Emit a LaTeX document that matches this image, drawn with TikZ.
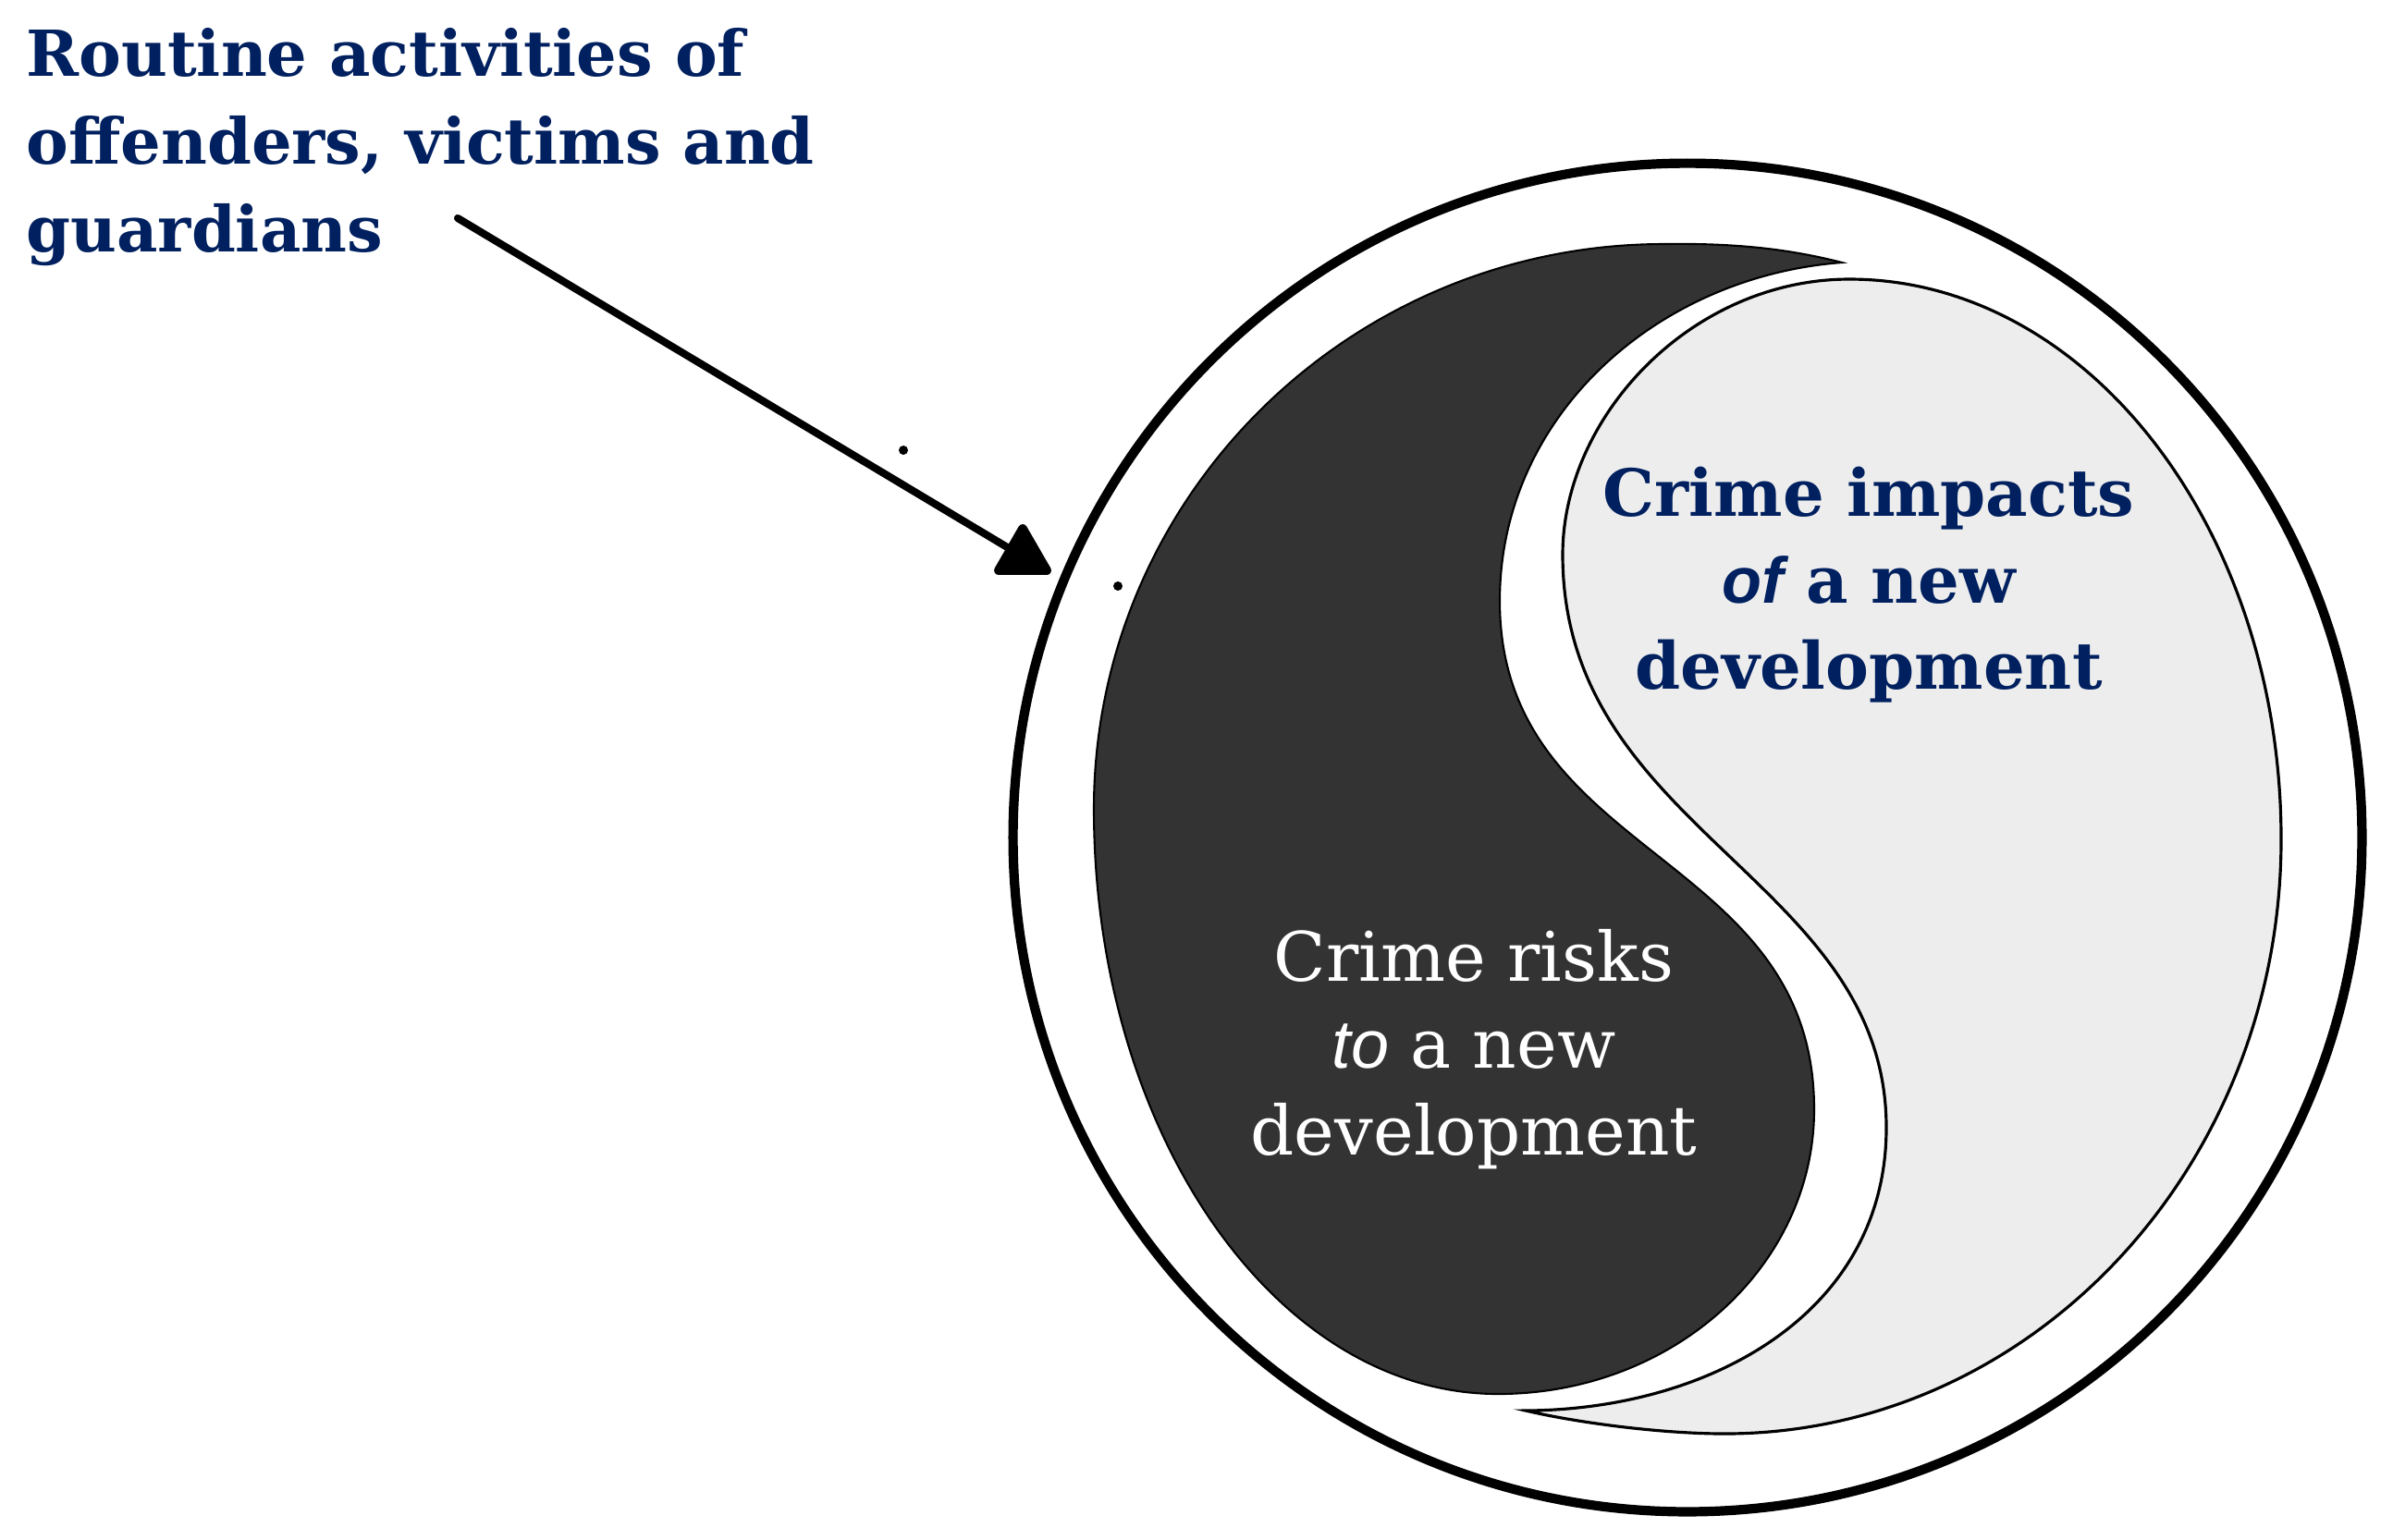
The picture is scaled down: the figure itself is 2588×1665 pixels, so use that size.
\documentclass[tikz,border=0pt]{standalone}
\usepackage{fontspec}
\setmainfont{DejaVu Serif}
\newfontfamily\italfont{Liberation Sans}
\usetikzlibrary{shapes.geometric}
\definecolor{navy}{RGB}{0,32,96}
\colorlet{darkpart}{black!80}
\colorlet{lightpart}{black!7}
\tikzset{
  ring/.style = {line width=2.9pt},
  routinetext/.style = {navy, inner sep=0pt, align=left,
    font=\bfseries\fontsize{19.5}{27}\selectfont},
  impacttext/.style = {navy, inner sep=0pt, align=center,
    font=\bfseries\fontsize{20}{26.7}\selectfont},
  risktext/.style = {white, inner sep=0pt, align=center,
    font=\fontsize{21}{26.7}\selectfont},
  pointer/.style = {line width=2.3pt, line cap=round},
  tiphead/.style = {regular polygon, regular polygon sides=3, draw, fill,
    line width=2.8pt, line join=round, minimum size=0.6cm, inner sep=0pt}
}

\begin{document}
\begin{tikzpicture}[x=0.01cm,y=-0.01cm]
  \useasboundingbox (0,0) rectangle (2588,1665);
  % outer circle
  \pgfmathsetmacro{\orad}{7.29}
  \coordinate (mid) at (1825,906);
  \draw[ring] (mid) circle (\orad cm);
  % dark half, tail at the top
  \filldraw[fill=darkpart, draw=black, line width=0.6pt]
    (1992,284) .. controls (1930,268) and (1870,263) .. (1800,264)
    .. controls (1459,264) and (1183,538) .. (1183,875)
    .. controls (1183,1224) and (1379,1508) .. (1620,1508)
    .. controls (1809,1508) and (1962,1370) .. (1962,1200)
    .. controls (1962,920) and (1622,930) .. (1622,650)
    .. controls (1622,450) and (1792,299) .. (1992,284) -- cycle;
  % light half, tail at the bottom
  \filldraw[fill=lightpart, draw=black, line width=0.9pt]
    (1650,1526) .. controls (1710,1540) and (1800,1551) .. (1865,1551)
    .. controls (2197,1551) and (2467,1263) .. (2467,908)
    .. controls (2467,573) and (2258,302) .. (2000,302)
    .. controls (1830,302) and (1690,450) .. (1690,600)
    .. controls (1690,900) and (2040,950) .. (2040,1220)
    .. controls (2040,1420) and (1850,1525) .. (1650,1526) -- cycle;
  % texts
  \node[routinetext, anchor=north west] (routine) at (28,30)
    {Routine activities of\\offenders, victims and\\guardians};
  \node[impacttext, anchor=north] (impacts) at (2021,504)
    {Crime impacts\\{\italfont\itshape of} a new\\development};
  \node[risktext, anchor=north] (risks) at (1594,1005)
    {Crime risks\\{\italfont\itshape to} a new\\development};
  % pointer
  \coordinate (tail) at (495,236);
  \node[tiphead] (head) at (1106,602) {};
  \draw[pointer] (tail) -- (head);
  % stray dots
  \fill (977,487) circle (0.05cm);
  \fill (1209,634) circle (0.05cm);
\end{tikzpicture}
\end{document}
